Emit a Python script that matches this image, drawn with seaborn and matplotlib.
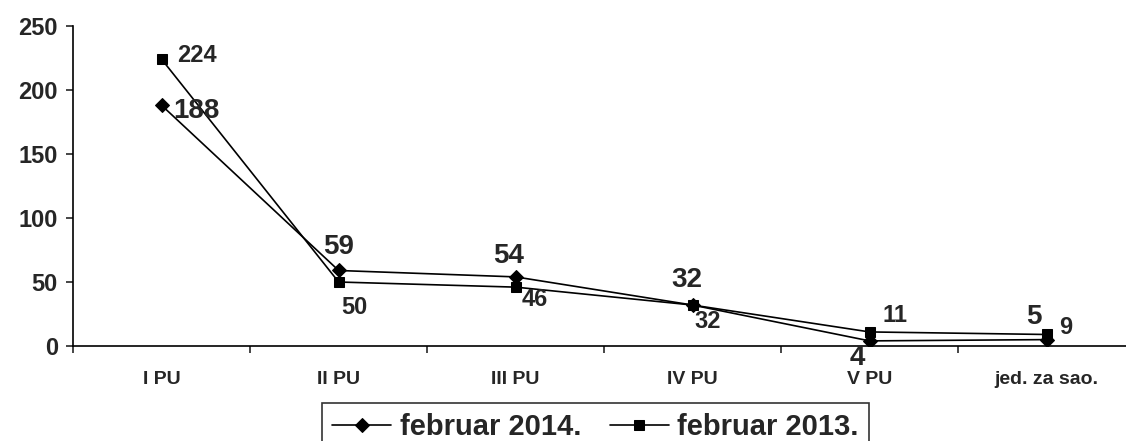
import pandas as pd
import matplotlib.pyplot as plt
import seaborn as sns

categories = ['I PU', 'II PU', 'III PU', 'IV PU', 'V PU', 'jed. za sao.']
feb_2014 = [188, 59, 54, 32, 4, 5]
feb_2013 = [224, 50, 46, 32, 11, 9]
series_names = ['februar 2014.', 'februar 2013.']

# label offsets in points (dx, dy) per point
offsets_2014 = [(8, -4), (0, 17), (-5, 15), (-4, 18), (-9, -12), (-9, 16)]
offsets_2013 = [(11, 3), (11, -18), (14, -9), (11, -12), (18, 12), (14, 5)]


def draw():
    sns.set_style('white')
    plt.rcParams['font.family'] = ['Liberation Sans', 'DejaVu Sans']
    plt.rcParams['font.weight'] = 'bold'

    df = pd.DataFrame({
        'cat': categories * 2,
        'val': feb_2014 + feb_2013,
        'series': [series_names[0]] * len(categories) + [series_names[1]] * len(categories),
    })

    fig = plt.figure(figsize=(11.26, 4.41), dpi=100)
    ax = fig.add_axes([0.065, 0.2154, 0.943, 0.7256])

    sns.lineplot(data=df, x='cat', y='val', hue='series', style='series',
                 markers={series_names[0]: 'D', series_names[1]: 's'},
                 dashes=False, palette=['black', 'black'], sort=False,
                 linewidth=1.2, markersize=7.5, markeredgecolor='black', ax=ax)

    for i, v in enumerate(feb_2014):
        ax.annotate(str(v), (i, v), xytext=offsets_2014[i], textcoords='offset points',
                    ha='center' if offsets_2014[i][0] < 6 else 'left', va='center',
                    fontsize=20, fontweight='bold')
    for i, v in enumerate(feb_2013):
        ax.annotate(str(v), (i, v), xytext=offsets_2013[i], textcoords='offset points',
                    ha='left' if i == 0 else 'center', va='center',
                    fontsize=17, fontweight='bold')

    ax.set_xlim(-0.5, 5.5)
    ax.set_ylim(0, 250)
    ax.set_yticks([0, 50, 100, 150, 200, 250])
    ax.set_xticks(range(len(categories)))
    ax.set_xticklabels(categories, fontsize=14, fontweight='bold')
    ax.set_xticks([i - 0.5 for i in range(len(categories) + 1)], minor=True)
    ax.tick_params(axis='x', which='major', length=0, pad=18)
    ax.tick_params(axis='x', which='minor', length=5, width=1.2, direction='out', bottom=True)
    ax.tick_params(axis='y', length=5, width=1.2, direction='out', left=True, labelsize=17, pad=6)
    for lbl in ax.get_yticklabels():
        lbl.set_fontweight('bold')
    ax.set_xlabel('')
    ax.set_ylabel('')
    sns.despine(ax=ax)
    for s in ['left', 'bottom']:
        ax.spines[s].set_color('black')
        ax.spines[s].set_linewidth(1.2)

    leg = ax.legend(loc='upper center', bbox_to_anchor=(0.529, 0.087),
                    bbox_transform=fig.transFigure, ncol=2, frameon=True,
                    fancybox=False, edgecolor='black', fontsize=21,
                    handlelength=2.0, columnspacing=1.0, handletextpad=0.3,
                    borderpad=0.35, borderaxespad=0)
    leg.get_frame().set_linewidth(1.2)
    for t in leg.get_texts():
        t.set_fontweight('bold')

    fig.savefig('out.png', dpi=100)


def main():
    draw()


if __name__ == '__main__':
    main()
